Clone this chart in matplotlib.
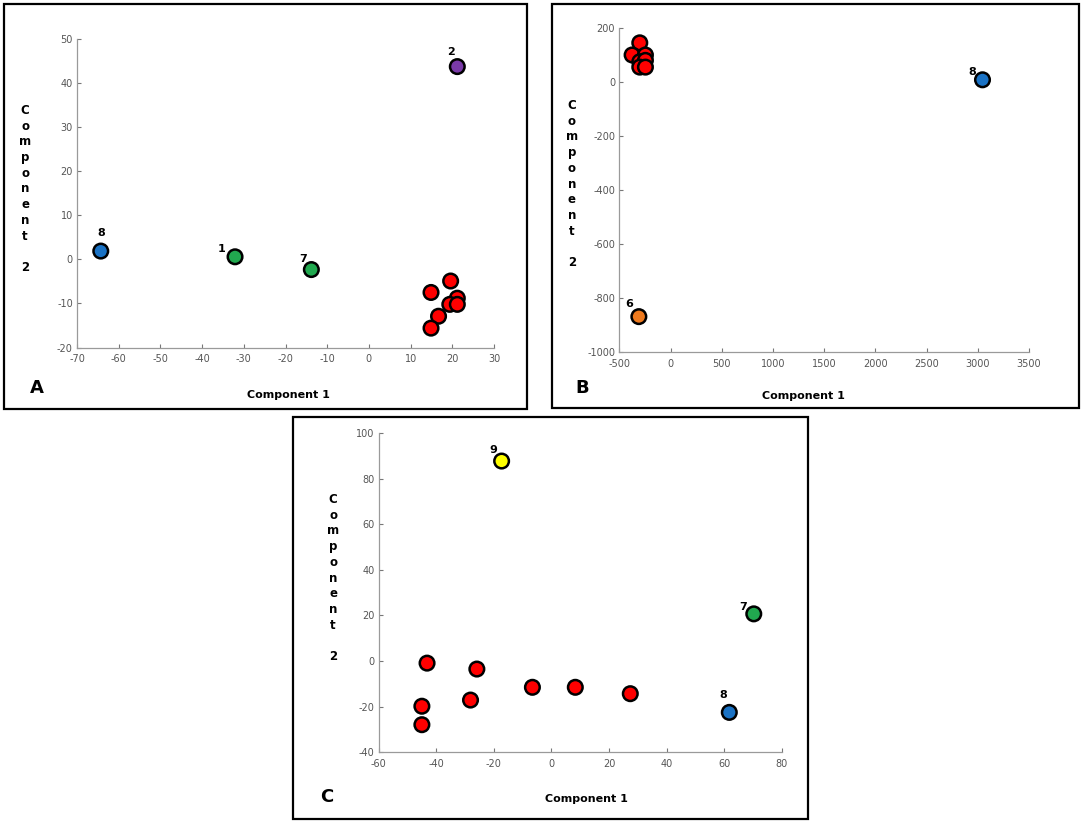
import matplotlib.pyplot as plt
from matplotlib.patches import Rectangle

plt.rcParams['axes.unicode_minus'] = False

W, H = 1084, 823
DPI = 100

# ---- data: panel A
a_x = [-64.3, -32.1, -13.8, 21.2, 19.6, 14.9, 21.2, 19.4, 21.2, 16.7, 14.9]
a_y = [1.9, 0.6, -2.3, 43.8, -4.9, -7.5, -8.8, -10.2, -10.2, -12.9, -15.6]
a_col = ['#1a72c4', '#21a94f', '#21a94f', '#7a3aa8'] + ['#ff0000'] * 7
a_lab = ['8', '1', '7', '2'] + [''] * 7

# ---- data: panel B
b_x = [3046, -309, -300, -375, -245, -300, -245, -300, -245]
b_y = [8, -870, 145, 100, 100, 75, 80, 55, 55]
b_col = ['#1a72c4', '#ee7a1e'] + ['#ff0000'] * 7
b_lab = ['8', '6'] + [''] * 7

# ---- data: panel C
c_x = [-17.3, 70.3, 61.8, -43.2, -25.9, -6.6, 8.3, 27.4, -28.1, -45.0, -45.0]
c_y = [87.7, 20.7, -22.5, -0.9, -3.5, -11.5, -11.5, -14.3, -17.1, -19.8, -27.9]
c_col = ['#ffff00', '#21a94f', '#1a72c4'] + ['#ff0000'] * 8
c_lab = ['9', '7', '8'] + [''] * 8

a_xticks = list(range(-70, 31, 10))
a_yticks = list(range(-20, 51, 10))
b_xticks = list(range(-500, 3501, 500))
b_yticks = list(range(-1000, 201, 200))
c_xticks = list(range(-60, 81, 20))
c_yticks = list(range(-40, 101, 20))

# label offsets in pixels (dx, dy up)
a_off = {'8': (0, 18), '1': (-13, 8), '7': (-8, 11), '2': (-6, 15)}
b_off = {'8': (-10, 8), '6': (-10, 13)}
c_off = {'9': (-8, 11), '7': (-11, 7), '8': (-6, 17)}

fig = plt.figure(figsize=(W / DPI, H / DPI), dpi=DPI)


def fx(px):
    return px / W


def fy(py):
    return 1 - py / H


def panel(box, frame, xs, ys, cols, labs, offs, xt, yt, letter, letter_xy,
          xlab_xy, ylab_xy):
    # frame around panel
    fig.patches.append(Rectangle((fx(frame[0]), fy(frame[3])),
                                 (frame[2] - frame[0]) / W,
                                 (frame[3] - frame[1]) / H,
                                 transform=fig.transFigure, fill=False,
                                 edgecolor='black', linewidth=1.6))
    l, t, r, b = box
    ax = fig.add_axes([fx(l), fy(b), (r - l) / W, (b - t) / H])
    ax.scatter(xs, ys, s=110, c=cols, edgecolors='black', linewidths=1.8,
               zorder=3, clip_on=False)
    for x, y, lab in zip(xs, ys, labs):
        if lab:
            dx, dy = offs[lab]
            ax.annotate(lab, (x, y), xytext=(dx * 0.72, dy * 0.72),
                        textcoords='offset points', ha='center', va='center',
                        fontsize=8, fontweight='bold')
    ax.set_xlim(xt[0], xt[-1])
    ax.set_ylim(yt[0], yt[-1])
    ax.set_xticks(xt)
    ax.set_yticks(yt)
    ax.spines['top'].set_visible(False)
    ax.spines['right'].set_visible(False)
    for s in ['left', 'bottom']:
        ax.spines[s].set_color('#9a9a9a')
        ax.spines[s].set_linewidth(0.9)
    ax.tick_params(direction='in', length=3, width=0.8, color='#777777',
                   labelsize=7, labelcolor='#555555')
    ax.tick_params(axis='x', pad=5)
    ax.tick_params(axis='y', pad=3)
    fig.text(fx(letter_xy[0]), fy(letter_xy[1]), letter, fontsize=13,
             fontweight='bold', ha='center', va='center')
    fig.text(fx(xlab_xy[0]), fy(xlab_xy[1]), 'Component 1', fontsize=8,
             fontweight='bold', ha='center', va='center')
    fig.text(fx(ylab_xy[0]), fy(ylab_xy[1]), '\n'.join('Component') + '\n\n2',
             fontsize=8.5, fontweight='bold', ha='center', va='center',
             linespacing=1.27)
    return ax


panel((77, 39.3, 494, 347.5), (4, 4, 527, 409), a_x, a_y, a_col, a_lab,
      a_off, a_xticks, a_yticks, 'A', (37, 388), (288, 395), (25, 189))
panel((619.3, 28, 1029, 351.7), (552, 4, 1079, 408), b_x, b_y, b_col, b_lab,
      b_off, b_xticks, b_yticks, 'B', (582, 388), (803, 396), (572, 184))
panel((378.7, 433, 781.7, 752.3), (293, 417, 808, 819), c_x, c_y, c_col,
      c_lab, c_off, c_xticks, c_yticks, 'C', (327, 797), (586, 799),
      (333, 578))

fig.savefig('out.png', dpi=DPI)
